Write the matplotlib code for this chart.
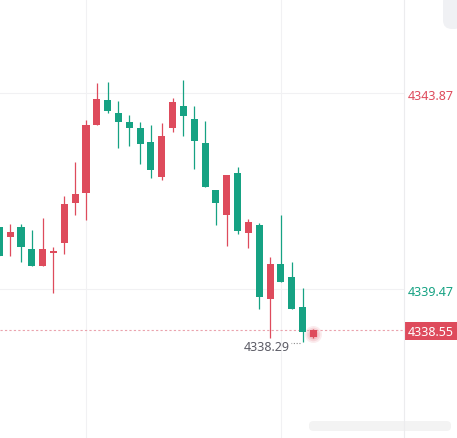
import matplotlib.pyplot as plt
from matplotlib.patches import Rectangle, FancyBboxPatch

# candle data (one bar per period)
opens = [4340.86, 4340.63, 4340.86, 4340.37, 4339.98, 4340.28, 4340.50, 4341.41,
         4341.63, 4343.16, 4343.71, 4343.43, 4343.23, 4343.08, 4342.78, 4341.99,
         4343.09, 4343.58, 4343.29, 4342.75, 4341.69, 4341.14, 4342.07, 4340.72,
         4340.91, 4339.25, 4340.03, 4339.73, 4339.07, 4338.39]
highs = [4340.86, 4340.93, 4340.93, 4340.79, 4341.06, 4340.41, 4341.56, 4342.33,
         4343.26, 4344.09, 4344.12, 4343.69, 4343.38, 4343.23, 4343.15, 4343.19,
         4343.75, 4344.16, 4343.58, 4343.25, 4341.69, 4342.03, 4342.20, 4341.04,
         4340.95, 4340.18, 4341.12, 4340.08, 4339.49, 4338.58]
lows = [4340.21, 4340.21, 4340.08, 4339.98, 4339.98, 4339.38, 4340.25, 4341.14,
        4341.02, 4343.16, 4343.41, 4342.64, 4342.69, 4342.28, 4341.97, 4341.92,
        4342.99, 4342.91, 4342.16, 4341.75, 4340.91, 4340.44, 4340.70, 4340.39,
        4339.02, 4338.36, 4339.63, 4339.01, 4338.29, 4338.38]
closes = [4340.21, 4340.74, 4340.41, 4339.98, 4340.37, 4340.32, 4341.38, 4341.60,
          4343.15, 4343.74, 4343.47, 4343.23, 4343.09, 4342.73, 4342.15, 4342.91,
          4343.67, 4343.36, 4342.80, 4341.77, 4341.41, 4342.03, 4340.77, 4340.97,
          4339.30, 4340.03, 4339.63, 4339.01, 4338.51, 4338.55]

upper_level = 4343.87
lower_level = 4339.47
last_price = 4338.55
low_mark = 4338.29
low_index = 28
time_grid = [8, 26]

RED = '#de4b5c'
GREEN = '#16a283'
GRID = '#f1f1f3'

W, H = 457, 439
fig = plt.figure(figsize=(W / 100, H / 100), dpi=100)
fig.patch.set_facecolor('white')
ax = fig.add_axes([0, 0, 404 / W, 1])
ax.set_xlim(0.062, 37.36)
ax.set_ylim(4336.125, 4345.98)
ax.axis('off')

# grid
for g in time_grid:
    ax.axvline(g, color=GRID, lw=0.8, zorder=0)
for lv in (upper_level, lower_level):
    ax.axhline(lv, color=GRID, lw=0.8, zorder=0)
fig.add_artist(plt.Line2D([404 / W, 404 / W], [0, 1], color='#ececee', lw=0.8))

# candles
min_h = 0.035
for i, (o, h, l, c) in enumerate(zip(opens, highs, lows, closes)):
    color = RED if c >= o else GREEN
    ax.vlines(i, l, h, color=color, lw=0.9, zorder=2)
    bottom = min(o, c)
    height = max(abs(c - o), min_h)
    ax.bar(i, height, bottom=bottom, width=0.65, color=color, zorder=3)

# glow on the live candle
last = len(closes) - 1
mid = (opens[last] + closes[last]) / 2
for s, a in [(150, 0.10), (95, 0.14), (50, 0.18)]:
    ax.scatter([last], [mid], s=s, color=RED, alpha=a, lw=0, zorder=1)

# last price dashed line
ax.axhline(last_price, color='#eaa3ad', lw=0.8, ls=(0, (2, 2)), zorder=1)

# lowest-price marker
ax.plot([low_index - 0.2, low_index - 1.1], [low_mark - 0.03, low_mark - 0.03],
        ls=(0, (1, 1.5)), color='#8a8a8a', lw=0.8)
ax.annotate(f'{low_mark:.2f}', xy=(low_index, low_mark), xytext=(-13, -5),
            textcoords='offset pixels', ha='right', va='center',
            fontsize=9, color='#5c5c66', family='Noto Sans')

# price axis labels
fig.text(430.5 / W, 1 - 96 / H, f'{upper_level:.2f}', ha='center', va='center',
         fontsize=9, color=RED, family='Noto Sans')
fig.text(430.5 / W, 1 - 292 / H, f'{lower_level:.2f}', ha='center', va='center',
         fontsize=9, color=GREEN, family='Noto Sans')
fig.add_artist(Rectangle((404 / W, 1 - 341 / H), 53 / W, 18 / H, color=RED, lw=0))
fig.text(430.5 / W, 1 - 332 / H, f'{last_price:.2f}', ha='center', va='center',
         fontsize=9, color='white', family='Noto Sans')

# faint corner button and watermark
fig.add_artist(FancyBboxPatch((443 / W, 1 - 30 / H), 20 / W, 36 / H,
                              boxstyle='round,pad=0,rounding_size=0.02',
                              color='#f0f1f4', lw=0))
fig.add_artist(FancyBboxPatch((309 / W, 1 - 432 / H), 142 / W, 10 / H,
                              boxstyle='round,pad=0,rounding_size=0.01',
                              color='#f3f3f3', lw=0))

fig.savefig('out.png', dpi=100)
